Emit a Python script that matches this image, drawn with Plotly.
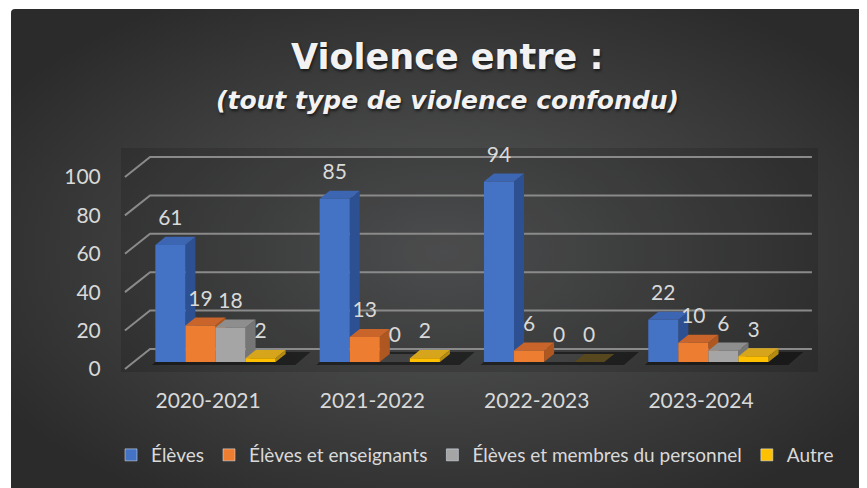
import base64
import plotly.graph_objects as go

# ---------------- data ----------------
categories = ["2020-2021", "2021-2022", "2022-2023", "2023-2024"]
series_names = ["Élèves", "Élèves et enseignants", "Élèves et membres du personnel", "Autre"]
eleves = [61, 85, 94, 22]
eleves_enseignants = [19, 13, 6, 10]
eleves_personnel = [18, 0, 0, 6]
autre = [2, 2, 0, 3]
y_ticks = [0, 20, 40, 60, 80, 100]

title_text = "Violence entre :"
subtitle_text = "(tout type de violence confondu)"

# ---------------- styling / geometry ----------------
front_colors = ["#4472C4", "#ED7D31", "#A5A5A5", "#FFC000"]
top_colors = ["#3C65B2", "#C9652A", "#8E8E8E", "#D7A51C"]
side_colors = ["#2C5091", "#AE5720", "#767676", "#B58A10"]
all_series = [eleves, eleves_enseignants, eleves_personnel, autre]

W = 0.183      # bar width (x units)
DX = 0.061     # depth shift x
DY = 4.2       # depth shift y
LABEL_DY = 13.0
WALL_X0, WALL_X1 = -0.551, -0.398
WALL_FRONT, WALL_BACK = -3.6, 6.8
GRID_END = 3.63

fig = go.Figure()

# gridlines (left wall + back wall)
gx, gy = [], []
for v in y_ticks:
    gx += [WALL_X0, WALL_X1, GRID_END, None]
    gy += [v + WALL_FRONT, v + WALL_BACK, v + WALL_BACK, None]
fig.add_trace(go.Scatter(x=gx, y=gy, mode="lines", line=dict(color="#8a8a8a", width=2),
                         hoverinfo="skip", showlegend=False))

# floor shadows
sx, sy = [], []
for g in range(len(categories)):
    xl = g - 2 * W
    xr = g + 2 * W + 0.12
    sx += [xl - 0.02, xr, xr + DX * 1.5, xl + DX, None]
    sy += [-1.5, -1.5, DY + 1.0, DY + 1.0, None]
fig.add_trace(go.Scatter(x=sx, y=sy, mode="lines", fill="toself", line=dict(width=0),
                         fillcolor="rgba(0,0,0,0.45)", hoverinfo="skip", showlegend=False))

# 3D bars drawn as polygons
for s, vals in enumerate(all_series):
    fx, fy, tx, ty, rx, ry = [], [], [], [], [], []
    zx, zy = [], []
    for g, v in enumerate(vals):
        xc = g + (s - 1.5) * W
        xl, xr = xc - W / 2, xc + W / 2
        if v > 0:
            fx += [xl, xr, xr, xl, None]
            fy += [0, 0, v, v, None]
            rx += [xr, xr + DX, xr + DX, xr, None]
            ry += [0, DY, v + DY, v, None]
            tx += [xl, xr, xr + DX, xl + DX, None]
            ty += [v, v, v + DY, v + DY, None]
        else:
            zx += [xl, xr, xr + DX, xl + DX, None]
            zy += [0, 0, DY, DY, None]
    fig.add_trace(go.Scatter(x=rx, y=ry, mode="lines", fill="toself", line=dict(width=0),
                             fillcolor=side_colors[s], hoverinfo="skip", showlegend=False))
    fig.add_trace(go.Scatter(x=tx, y=ty, mode="lines", fill="toself", line=dict(width=0),
                             fillcolor=top_colors[s], hoverinfo="skip", showlegend=False))
    if zx:
        fig.add_trace(go.Scatter(x=zx, y=zy, mode="lines", fill="toself", line=dict(width=0),
                                 fillcolor=top_colors[s], opacity=0.3, hoverinfo="skip",
                                 showlegend=False))
    fig.add_trace(go.Scatter(x=fx, y=fy, mode="lines", fill="toself", line=dict(width=0),
                             fillcolor=front_colors[s], hoverinfo="skip", showlegend=False))

# data labels
for s, vals in enumerate(all_series):
    xs = [g + (s - 1.5) * W for g in range(len(vals))]
    fig.add_trace(go.Scatter(x=xs, y=[v + LABEL_DY for v in vals], mode="text",
                             text=[str(v) for v in vals], textposition="middle center",
                             textfont=dict(family="Lato", size=21, color="#d9d9d9"),
                             cliponaxis=False, hoverinfo="skip", showlegend=False))

# legend entries
for s, name in enumerate(series_names):
    fig.add_trace(go.Bar(x=[None], y=[None], name=name, marker_color=front_colors[s]))

# background radial gradient as svg
svg = (
    '<svg xmlns="http://www.w3.org/2000/svg" width="864" height="487" viewBox="0 0 864 487">'
    '<defs><radialGradient id="g" cx="0.5" cy="0.5" r="0.6">'
    '<stop offset="0" stop-color="#575859"/>'
    '<stop offset="1" stop-color="#2b2b2b"/>'
    '</radialGradient></defs>'
    '<rect x="0" y="0" width="864" height="487" rx="4" fill="url(#g)"/></svg>'
)
src = "data:image/svg+xml;base64," + base64.b64encode(svg.encode()).decode()

FW, FH = 867, 488
L, R, T, B = 113, 57, 140, 124
PW, PH = FW - L - R, FH - T - B


def px_x(p):
    return (p - L) / PW


def px_y(p):
    return (FH - B - p) / PH


fig.add_layout_image(dict(source=src, xref="paper", yref="paper",
                          x=px_x(3), y=px_y(1), sizex=864 / PW, sizey=487 / PH,
                          sizing="stretch", xanchor="left", yanchor="top", layer="below"))
fig.add_shape(type="rect", xref="paper", yref="paper", x0=0, x1=1, y0=0, y1=1,
              fillcolor="rgba(0,0,0,0.13)", line=dict(width=0), layer="below")

fig.add_annotation(text="<b>" + title_text + "</b>", xref="paper", yref="paper",
                   x=px_x(439), y=px_y(49), showarrow=False,
                   font=dict(family="DejaVu Sans", size=35, color="#f2f2f2",
                             shadow="1px 2px 3px rgba(0,0,0,0.6)"),
                   xanchor="center", yanchor="middle")
fig.add_annotation(text="<b><i>" + subtitle_text + "</i></b>", xref="paper", yref="paper",
                   x=px_x(439), y=px_y(92), showarrow=False,
                   font=dict(family="DejaVu Sans", size=25, color="#f2f2f2",
                             shadow="1px 2px 3px rgba(0,0,0,0.6)"),
                   xanchor="center", yanchor="middle")

fig.update_layout(
    width=FW, height=FH,
    margin=dict(l=L, r=R, t=T, b=B, pad=0),
    paper_bgcolor="white",
    plot_bgcolor="rgba(0,0,0,0)",
    barmode="overlay",
    font=dict(family="Lato", color="#d9d9d9", size=19),
    legend=dict(orientation="h", xref="paper", x=px_x(103), xanchor="left",
                yref="paper", y=px_y(447), yanchor="middle",
                font=dict(family="Lato", size=19, color="#d9d9d9"),
                itemwidth=30, bgcolor="rgba(0,0,0,0)", traceorder="normal"),
    xaxis=dict(range=[-0.575, 3.667], tickvals=[g - 0.045 for g in range(len(categories))],
               ticktext=categories, showgrid=False, zeroline=False, showline=False,
               ticks="outside", ticklen=10, tickcolor="rgba(0,0,0,0)",
               tickfont=dict(family="Lato", size=21, color="#d9d9d9"), fixedrange=True),
    yaxis=dict(range=[-5.2, 111.5], tickvals=[v + WALL_FRONT for v in y_ticks],
               ticktext=[str(v) for v in y_ticks], showgrid=False, zeroline=False,
               showline=False, ticks="outside", ticklen=15, tickcolor="rgba(0,0,0,0)",
               tickfont=dict(family="Lato", size=21, color="#d9d9d9"), fixedrange=True),
    showlegend=True,
)

fig.write_html("out.html")
